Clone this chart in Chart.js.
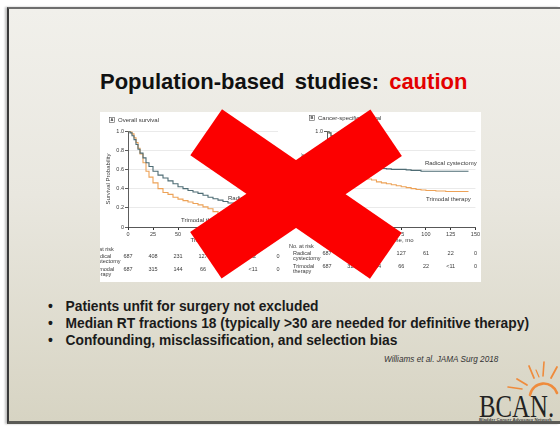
<!DOCTYPE html>
<html>
<head>
<meta charset="utf-8">
<script src="https://cdn.jsdelivr.net/npm/chart.js@4"></script>
<style>
  html, body { margin: 0; padding: 0; }
  body { width: 560px; height: 427px; position: relative; overflow: hidden; background: #ffffff; font-family: "Liberation Sans", Arial, sans-serif; }
  #slide {
    position: absolute; left: 7px; top: 7px; width: 553px; height: 417px;
    background: linear-gradient(180deg, #f1f0eb 0%, #e9e7df 45%, #d7d4c3 100%);
    border-top: 2px solid #6e6e6e; border-left: 2px solid #3a3a3a; border-bottom: 3px solid #5a5a55;
    box-shadow: -2px 0 2px rgba(0,0,0,0.25);
    box-sizing: border-box;
  }
  .abs { position: absolute; white-space: nowrap; }
  #title { left: 100px; top: 71px; font-size: 22px; line-height: 1; font-weight: bold; color: #111; word-spacing: 4px; }
  #title span { color: #e30000; }
  .bullet { left: 48px; font-size: 13.8px; line-height: 1; font-weight: bold; color: #1b1b1b; }
  .bullet b { display: inline-block; width: 17.5px; }
  #cite { left: 384px; top: 356px; font-size: 8.2px; line-height: 1; font-style: italic; color: #333; }
  #panel { left: 100px; top: 112px; width: 381px; height: 170px; background: #ffffff; }
  canvas { position: absolute; }
  .arm { position: absolute; background: #fc0000; }
  #bcan { left: 479px; top: 391px; font-family: "Liberation Serif", "Times New Roman", serif; font-size: 31px; line-height: 1; color: #222; transform: scaleX(0.8); transform-origin: 0 0; }
  #bcan-sub { left: 479px; top: 418px; font-size: 4.4px; line-height: 1; font-weight: bold; color: #444; }
</style>
</head>
<body>
<div id="slide"></div>
<div id="title" class="abs">Population-based studies: <span>caution</span></div>

<div id="panel" class="abs"></div>
<canvas id="os-chart" width="188" height="170" style="left:100px; top:112px; width:188px; height:170px;"></canvas>
<canvas id="css-chart" width="193" height="170" style="left:288px; top:112px; width:193px; height:170px;"></canvas>

<div class="arm" style="left:186.75px; top:165.75px; width:218px; height:56px; transform:rotate(34.5deg);"></div>
<div class="arm" style="left:187px; top:166.25px; width:218px; height:56px; transform:rotate(-34.2deg);"></div>

<div class="abs bullet" style="top:299.5px;"><b>•</b>Patients unfit for surgery not excluded</div>
<div class="abs bullet" style="top:316.5px;"><b>•</b>Median RT fractions 18 (typically &gt;30 are needed for definitive therapy)</div>
<div class="abs bullet" style="top:333.5px;"><b>•</b>Confounding, misclassification, and selection bias</div>
<div id="cite" class="abs">Williams et al. JAMA Surg 2018</div>

<svg class="abs" style="left:490px; top:358px;" width="70" height="45">
  <g stroke="#ef8b3c" stroke-linecap="round" fill="none">
    <path d="M 40 37 A 14 14 0 0 1 67 35" stroke-width="2.6"/>
    <path d="M 37 27 L 27 21" stroke-width="1.8"/>
    <path d="M 32 31 L 18 29" stroke-width="1.6"/>
    <path d="M 44 20 L 39 8" stroke-width="1.8"/>
    <path d="M 53 18 L 54 4" stroke-width="1.6"/>
    <path d="M 61 20 L 67 9" stroke-width="1.8"/>
    <path d="M 49 19 L 46 12" stroke-width="1.2"/>
  </g>
</svg>
<div id="bcan" class="abs">BCAN.</div>
<div id="bcan-sub" class="abs">Bladder Cancer Advocacy Network</div>

<script>
// overall survival (panel A), months and survival probability
const osMonths = [0, 2, 4, 6, 8, 10, 12, 15, 18, 21, 25, 30, 35, 40, 45, 50, 55, 60, 65, 70, 75, 80, 85, 90, 95, 100, 110, 120, 130];
const osRadical = [1.0, 0.98, 0.95, 0.91, 0.86, 0.81, 0.77, 0.72, 0.67, 0.63, 0.58, 0.54, 0.51, 0.48, 0.45, 0.42, 0.40, 0.38, 0.365, 0.35, 0.33, 0.31, 0.295, 0.28, 0.265, 0.25, 0.23, 0.21, 0.2];
const osTrimodal = [1.0, 0.99, 0.97, 0.93, 0.88, 0.82, 0.76, 0.67, 0.58, 0.52, 0.46, 0.40, 0.36, 0.34, 0.31, 0.29, 0.275, 0.26, 0.245, 0.23, 0.21, 0.19, 0.16, 0.14, 0.13, 0.12, 0.11, 0.10, 0.09];

// cancer-specific survival (panel B)
const cssMonths = [0, 2, 4, 6, 8, 10, 12, 15, 18, 21, 25, 30, 35, 40, 45, 50, 55, 60, 65, 70, 75, 80, 85, 90, 95, 100, 110, 120, 130, 143];
const cssRadical = [1.0, 0.98, 0.95, 0.91, 0.87, 0.83, 0.80, 0.76, 0.73, 0.70, 0.68, 0.66, 0.64, 0.63, 0.62, 0.615, 0.61, 0.605, 0.60, 0.60, 0.60, 0.595, 0.59, 0.59, 0.58, 0.58, 0.58, 0.58, 0.58, 0.58];
const cssTrimodal = [1.0, 0.98, 0.94, 0.89, 0.83, 0.77, 0.72, 0.66, 0.61, 0.57, 0.54, 0.52, 0.51, 0.50, 0.49, 0.47, 0.46, 0.45, 0.44, 0.43, 0.42, 0.41, 0.40, 0.39, 0.385, 0.38, 0.375, 0.37, 0.37, 0.37];

// number at risk table
const riskMonths = [0, 25, 50, 75, 100, 125, 150];
const riskRadical = ['687', '408', '231', '127', '61', '22', '0'];
const riskTrimodal = ['687', '315', '144', '66', '22', '<11', '0'];

const radicalColor = '#4e6c74';
const trimodalColor = '#eda257';
const textColor = '#3a3a3a';

Chart.defaults.font.family = '"Liberation Sans", Arial, sans-serif';
Chart.defaults.color = textColor;

function points(xs, ys) {
  return xs.map((x, i) => ({ x: x, y: ys[i] }));
}

// draws panel letter, curve labels, axis titles and the at-risk table
const figureText = {
  id: 'figureText',
  afterDraw(chart, args, opts) {
    const ctx = chart.ctx;
    const xs = chart.scales.x;
    const ys = chart.scales.y;
    const area = chart.chartArea;
    ctx.save();
    ctx.fillStyle = textColor;
    ctx.strokeStyle = '#555';
    ctx.lineWidth = 0.6;

    // panel letter + title
    ctx.strokeRect(opts.panelX + 0.5, opts.panelY + 0.5, 5, 5);
    ctx.textBaseline = 'middle';
    ctx.textAlign = 'center';
    ctx.font = 'bold 4px "Liberation Sans"';
    ctx.fillText(opts.letter, opts.panelX + 3, opts.panelY + 3.2);
    ctx.textAlign = 'left';
    ctx.font = '6px "Liberation Sans"';
    ctx.fillText(opts.title, opts.panelX + 9, opts.panelY + 3);

    // curve labels, anchored in data units
    opts.labels.forEach(l => {
      ctx.fillText(l.text, xs.getPixelForValue(l.x), ys.getPixelForValue(l.y));
    });

    // axis titles
    ctx.textAlign = 'center';
    ctx.fillText('Time, mo', (area.left + area.right) / 2, area.bottom + 13);
    ctx.save();
    ctx.translate(opts.yTitleX, (area.top + area.bottom) / 2);
    ctx.rotate(-Math.PI / 2);
    ctx.fillText('Survival Probability', 0, 0);
    ctx.restore();

    // at-risk table
    ctx.font = '5.5px "Liberation Sans"';
    ctx.textAlign = 'left';
    const top = area.bottom + opts.tableTop;
    ctx.fillText('No. at risk', opts.headX, top);
    ctx.fillText('Radical', opts.rowX, top + 7);
    ctx.fillText('cystectomy', opts.rowX, top + 12.5);
    ctx.fillText('Trimodal', opts.rowX, top + 20);
    ctx.fillText('therapy', opts.rowX, top + 25.5);
    ctx.textAlign = 'center';
    riskMonths.forEach((m, i) => {
      const px = xs.getPixelForValue(m);
      ctx.fillText(riskRadical[i], px, top + 7);
      ctx.fillText(riskTrimodal[i], px, top + 20);
    });
    ctx.restore();
  }
};

function makeConfig(radical, trimodal, months, yWidth, rightPad, text) {
  return {
    type: 'line',
    data: {
      datasets: [{
        label: 'Radical cystectomy',
        data: points(months, radical),
        borderColor: radicalColor,
        borderWidth: 1.1,
        pointRadius: 0,
        stepped: true
      }, {
        label: 'Trimodal therapy',
        data: points(months, trimodal),
        borderColor: trimodalColor,
        borderWidth: 1.1,
        pointRadius: 0,
        stepped: true
      }]
    },
    options: {
      responsive: false,
      devicePixelRatio: 1,
      animation: false,
      layout: {
        padding: { top: 19, right: rightPad, left: 0, bottom: 0 }
      },
      plugins: {
        legend: { display: false },
        tooltip: { enabled: false },
        figureText: text
      },
      scales: {
        x: {
          type: 'linear',
          min: 0,
          max: 150,
          afterFit: s => { s.height = 55; },
          ticks: { stepSize: 25, font: { size: 5.5 }, padding: 1, maxRotation: 0 },
          grid: { drawOnChartArea: false, tickLength: 3, tickColor: '#333' },
          border: { color: '#333', width: 0.8 }
        },
        y: {
          min: 0,
          max: 1,
          afterFit: s => { s.width = yWidth; },
          ticks: {
            stepSize: 0.2,
            font: { size: 5.5 },
            padding: 1,
            callback: v => v === 0 ? '0' : v.toFixed(1)
          },
          grid: { color: '#e4e4e4', lineWidth: 0.8, tickLength: 3, tickColor: '#333' },
          border: { color: '#333', width: 0.8 }
        }
      }
    },
    plugins: [figureText]
  };
}

const configOs = makeConfig(osRadical, osTrimodal, osMonths, 28, 10, {
  letter: 'A', title: 'Overall survival', panelX: 9, panelY: 5, yTitleX: 8,
  tableTop: 22, headX: -11, rowX: -7,
  labels: [
    { text: 'Radical cystectomy', x: 100, y: 0.30 },
    { text: 'Trimodal therapy', x: 53, y: 0.07 }
  ]
});

const configCss = makeConfig(cssRadical, cssTrimodal, cssMonths, 39, 4, {
  letter: 'B', title: 'Cancer-specific survival', panelX: 21, panelY: 3, yTitleX: 14,
  tableTop: 19, headX: 1, rowX: 5,
  labels: [
    { text: 'Radical cystectomy', x: 99, y: 0.66 },
    { text: 'Trimodal therapy', x: 100, y: 0.29 }
  ]
});

new Chart(document.getElementById('os-chart'), configOs);
new Chart(document.getElementById('css-chart'), configCss);
</script>
</body>
</html>
